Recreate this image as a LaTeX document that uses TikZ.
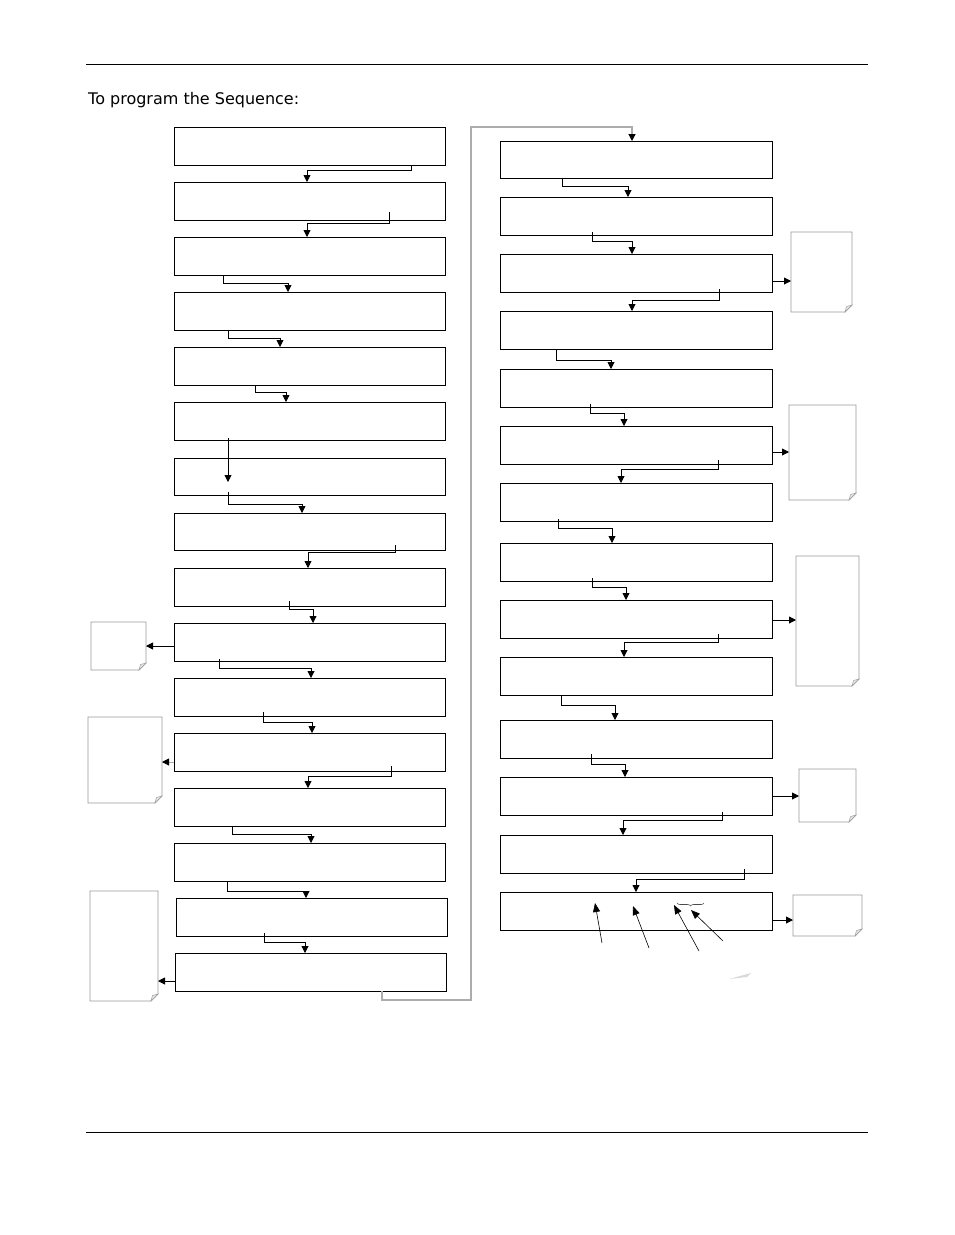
\documentclass[tikz,border=0pt]{standalone}
\usepackage{fontspec}
\setmainfont{DejaVu Sans}
\usetikzlibrary{arrows.meta,calc,decorations.pathreplacing}
\tikzset{
 box/.style={draw, line width=0.9pt, rectangle, inner sep=0pt, outer sep=0pt},
 conn/.style={line width=0.9pt, -{Triangle[length=7pt,width=7pt,color=black]}},
 graylink/.style={draw=gray!65, line width=1.2pt},
 notebox/.style={draw=gray!80, line width=0.9pt},
 foldtri/.style={draw=gray!75, fill=gray!20, line width=0.5pt},
 pointer/.style={line width=0.6pt, -{Triangle[length=9pt,width=7pt]}},
 rulestyle/.style={line width=0.7pt},
 anchorbox/.style={inner sep=0pt, outer sep=0pt}
}
\newcommand\bx[5]{\node[box, minimum width={(#4-#2)*1pt}, minimum height={(#5-#3)*1pt}] (#1) at ({(#2+#4)/2},{(#3+#5)/2}) {};}
\newcommand\conn[6]{\draw[conn] ($(#1.south -| #2,0)+(0,-#3)$) |- (#5,#4) -- (#6.north -| #5,0);}
\newcommand\notepage[5]{\node[anchorbox, minimum width={(#4-#2)*1pt}, minimum height={(#5-#3)*1pt}] (#1) at ({(#2+#4)/2},{(#3+#5)/2}) {};
\draw[notebox] (#1.north west) -- (#1.north east) -- ($(#1.south east)+(0,-7)$) -- ($(#1.south east)+(-7,0)$) -- (#1.south west) -- cycle;
\draw[foldtri] ($(#1.south east)+(0,-7)$) -- ($(#1.south east)+(-7,0)$) -- ($(#1.south east)+(-5.5,-5.5)$) -- cycle;}
\begin{document}
\begin{tikzpicture}[x=1pt,y=-1pt]
\useasboundingbox (0,0) rectangle (954,1235);
\fill[white] (0,0) rectangle (954,1235);
\draw[rulestyle] (86,64) -- (868,64);
\draw[rulestyle] (86,1132) -- (868,1132);
\node[anchor=base west, font=\fontsize{16}{19}\selectfont, inner sep=0pt] (title) at (88,104) {To program the Sequence:};
% left column
\bx{L1}{174}{127}{445}{165}
\bx{L2}{174}{182}{445}{220}
\bx{L3}{174}{237}{445}{275}
\bx{L4}{174}{292}{445}{330}
\bx{L5}{174}{347}{445}{385}
\bx{L6}{174}{402}{445}{440}
\bx{L7}{174}{458}{445}{495}
\bx{L8}{174}{513}{445}{550}
\bx{L9}{174}{568}{445}{606}
\bx{L10}{174}{623}{445}{661}
\bx{L11}{174}{678}{445}{716}
\bx{L12}{174}{733}{445}{771}
\bx{L13}{174}{788}{445}{826}
\bx{L14}{174}{843}{445}{881}
\bx{L15}{176}{898}{447}{936}
\bx{L16}{175}{953}{446}{991}
% right column
\bx{R1}{500}{141}{772}{178}
\bx{R2}{500}{197}{772}{235}
\bx{R3}{500}{254}{772}{292}
\bx{R4}{500}{311}{772}{349}
\bx{R5}{500}{369}{772}{407}
\bx{R6}{500}{426}{772}{464}
\bx{R7}{500}{483}{772}{521}
\bx{R8}{500}{543}{772}{581}
\bx{R9}{500}{600}{772}{638}
\bx{R10}{500}{657}{772}{695}
\bx{R11}{500}{720}{772}{758}
\bx{R12}{500}{777}{772}{815}
\bx{R13}{500}{835}{772}{873}
\bx{R14}{500}{892}{772}{930}
% left connectors
\conn{L1}{411}{0}{170}{307}{L2}
\conn{L2}{389}{8}{223}{307}{L3}
\conn{L3}{223}{0}{283}{288}{L4}
\conn{L4}{228}{0}{338}{280}{L5}
\conn{L5}{255}{0}{392}{286}{L6}
\draw[conn] ($(L6.south -| 228,0)+(0,-2)$) -- ($(L7.south -| 228,0)+(0,-13)$);
\conn{L7}{228}{3}{504}{302}{L8}
\conn{L8}{395}{5}{552}{308}{L9}
\conn{L9}{289}{5}{609}{313}{L10}
\conn{L10}{219}{2}{668}{311}{L11}
\conn{L11}{263}{4}{722}{312}{L12}
\conn{L12}{391}{5}{776}{308}{L13}
\conn{L13}{232}{0}{834}{311}{L14}
\conn{L14}{227}{0}{891}{306}{L15}
\conn{L15}{264}{3}{942}{305}{L16}
% right connectors
\conn{R1}{562}{0}{186}{628}{R2}
\conn{R2}{592}{3}{241}{632}{R3}
\conn{R3}{719}{3}{300}{632}{R4}
\conn{R4}{556}{0}{360}{611}{R5}
\conn{R5}{590}{3}{413}{624}{R6}
\conn{R6}{718}{4}{469}{621}{R7}
\conn{R7}{558}{2}{528}{612}{R8}
\conn{R8}{592}{3}{587}{626}{R9}
\conn{R9}{718}{4}{642}{624}{R10}
\conn{R10}{561}{0}{705}{615}{R11}
\conn{R11}{591}{4}{764}{625}{R12}
\conn{R12}{722}{3}{820}{623}{R13}
\conn{R13}{744}{4}{879}{636}{R14}
% loop from left column to right column
\draw[graylink, -{Triangle[length=7pt,width=7pt,color=black]}] (L16.south -| 382,0) -- (382,1000) -- (471,1000) -- (471,127) -- (632,127) -- (R1.north -| 632,0);
% notes
\notepage{NA}{91}{622}{146}{670}
\notepage{NB}{88}{717}{162}{803}
\notepage{NC}{90}{891}{158}{1001}
\notepage{ND}{791}{232}{852}{312}
\notepage{NE}{789}{405}{856}{500}
\notepage{NF}{796}{556}{859}{686}
\notepage{NG}{799}{769}{856}{822}
\notepage{NH}{793}{895}{862}{936}
% side arrows
\draw[conn] (L10.west |- 0,646) -- (NA.east |- 0,646);
\draw[conn, draw=gray!65] (L12.west |- 0,762) -- (NB.east |- 0,762);
\draw[conn] (L16.west |- 0,981) -- (NC.east |- 0,981);
\draw[conn] (R3.east |- 0,281) -- (ND.west |- 0,281);
\draw[conn] (R6.east |- 0,452) -- (NE.west |- 0,452);
\draw[conn] (R9.east |- 0,620) -- (NF.west |- 0,620);
\draw[conn] (R12.east |- 0,796) -- (NG.west |- 0,796);
\draw[conn] (R14.east |- 0,920) -- (NH.west |- 0,920);
% pointers into last box
\coordinate (p1) at (602,943); \coordinate (q1) at (595,903);
\coordinate (p2) at (649,948); \coordinate (q2) at (633,906);
\coordinate (p3) at (699,951); \coordinate (q3) at (674,905);
\coordinate (p4) at (723,941); \coordinate (q4) at (691,910);
\draw[pointer] (p1) -- (q1);
\draw[pointer] (p2) -- (q2);
\draw[pointer] (p3) -- (q3);
\draw[pointer] (p4) -- (q4);
\draw[decorate, decoration={brace, amplitude=3pt, mirror}, line width=0.6pt, gray!60!black] (677,903) -- (704,903);
\fill[gray!30] (729,979) -- (751,973) -- (747,977) -- cycle;
\end{tikzpicture}
\end{document}
